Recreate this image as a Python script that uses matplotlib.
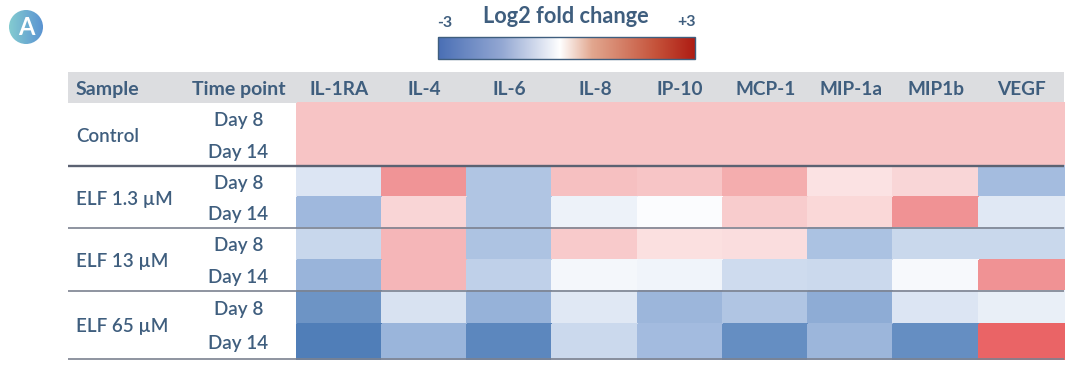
import numpy as np
import matplotlib.pyplot as plt
from matplotlib.colors import LinearSegmentedColormap
from matplotlib.patches import Circle, Rectangle

plt.rcParams['font.family'] = ['Lato', 'DejaVu Sans']

markers = ['IL-1RA', 'IL-4', 'IL-6', 'IL-8', 'IP-10', 'MCP-1', 'MIP-1a', 'MIP1b', 'VEGF']
samples = ['Control', 'ELF 1.3 µM', 'ELF 13 µM', 'ELF 65 µM']
days = ['Day 8', 'Day 14']

control_d8 = [1.05, 1.05, 1.05, 1.05, 1.05, 1.05, 1.05, 1.05, 1.05]
control_d14 = [1.05, 1.05, 1.05, 1.05, 1.05, 1.05, 1.05, 1.05, 1.05]
elf1_d8 = [-0.58, 1.89, -1.31, 1.11, 1.02, 1.43, 0.51, 0.72, -1.49]
elf1_d14 = [-1.59, 0.74, -1.31, -0.30, -0.05, 0.90, 0.69, 1.92, -0.51]
elf13_d8 = [-0.91, 1.27, -1.34, 0.92, 0.55, 0.60, -1.38, -0.88, -0.88]
elf13_d14 = [-1.67, 1.27, -1.04, -0.18, -0.25, -0.80, -0.85, -0.12, 1.92]
elf65_d8 = [-2.40, -0.65, -1.72, -0.50, -1.62, -1.29, -1.86, -0.58, -0.36]
elf65_d14 = [-2.90, -1.66, -2.68, -0.86, -1.52, -2.54, -1.64, -2.54, 2.74]

values = np.array([control_d8, control_d14, elf1_d8, elf1_d14,
                   elf13_d8, elf13_d14, elf65_d8, elf65_d14])

# layout in image pixels
W, H = 1078, 372
x_edges = np.linspace(296.5, 1064, len(markers) + 1)
y_edges = [103, 134.5, 166, 197, 228, 259.5, 291, 324, 359]
text_col = '#3f5e7e'

cell_cmap = LinearSegmentedColormap.from_list(
    'cells', [(0, '#4a7ab5'), (0.25, '#a4bcdf'), (0.5, '#ffffff'), (1, '#e85558')])
bar_cmap = LinearSegmentedColormap.from_list(
    'bar', [(0, '#4a6fb5'), (0.25, '#94a8d3'), (0.42, '#e4e9f4'), (0.474, '#ffffff'),
            (0.6, '#e2a78f'), (0.85, '#c5523a'), (1, '#ae1c14')])

fig = plt.figure(figsize=(W / 100, H / 100), dpi=100)
ax = fig.add_axes([0, 0, 1, 1])
ax.set_xlim(0, W)
ax.set_ylim(H, 0)
ax.axis('off')

# header band
ax.add_patch(Rectangle((68, 72), 996, 31, fc='#dcdde0', ec='none'))

# heat cells
ax.pcolormesh(x_edges, y_edges, values, cmap=cell_cmap, vmin=-3, vmax=3,
              edgecolors='face', linewidth=0.3)

# separators
ax.plot([68, 1064], [166, 166], color='#5b6272', lw=1.7, solid_capstyle='butt')
ax.plot([68, 1064], [228, 228], color='#7c8290', lw=1.2, solid_capstyle='butt')
ax.plot([68, 1064], [291, 291], color='#7c8290', lw=1.2, solid_capstyle='butt')
ax.plot([68, 1064], [359, 359], color='#7c8290', lw=1.2, solid_capstyle='butt')

# header text
ax.text(76, 89.5, 'Sample', fontsize=14, fontweight='bold', color=text_col, va='center')
ax.text(238.5, 89.5, 'Time point', fontsize=14, fontweight='bold', color=text_col,
        va='center', ha='center')
for i, name in enumerate(markers):
    ax.text((x_edges[i] + x_edges[i + 1]) / 2, 89.5, name, fontsize=13.7, fontweight='bold',
            color=text_col, va='center', ha='center')

# row labels
for i, name in enumerate(samples):
    ax.text(76, y_edges[2 * i + 1] + 2.5, name, fontsize=13.5, color=text_col,
            va='center', fontweight='semibold')
    for j, day in enumerate(days):
        y = (y_edges[2 * i + j] + y_edges[2 * i + j + 1]) / 2
        ax.text(238.5, y + 2, day, fontsize=13.6, color=text_col, va='center', ha='center',
                fontweight='semibold')

# colour scale
grad = np.linspace(0, 1, 256).reshape(1, -1)
ax.imshow(grad, cmap=bar_cmap, extent=(438, 695, 59, 37), aspect='auto', zorder=2)
ax.add_patch(Rectangle((438, 37), 257, 22, fc='none', ec='#3f5e7e', lw=1, zorder=3))
ax.text(566, 16.5, 'Log2 fold change', fontsize=15.7, fontweight='bold', color=text_col,
        ha='center', va='center')
ax.text(445, 23, '-3', fontsize=11.5, fontweight='bold', color=text_col, ha='center', va='center')
ax.text(686, 22.5, '+3', fontsize=11.5, fontweight='bold', color=text_col, ha='center', va='center')

# panel badge
badge_cmap = LinearSegmentedColormap.from_list('badge', ['#84ccd0', '#5a93d2'])
img = ax.imshow(grad, cmap=badge_cmap, extent=(9, 43, 44, 10), aspect='auto', zorder=2)
img.set_clip_path(Circle((26, 27), 17, transform=ax.transData))
ax.text(26, 27.5, 'A', fontsize=17, fontweight='bold', color='white', ha='center', va='center', zorder=3)

ax.set_xlim(0, W)
ax.set_ylim(H, 0)
fig.savefig('out.png', dpi=100)
